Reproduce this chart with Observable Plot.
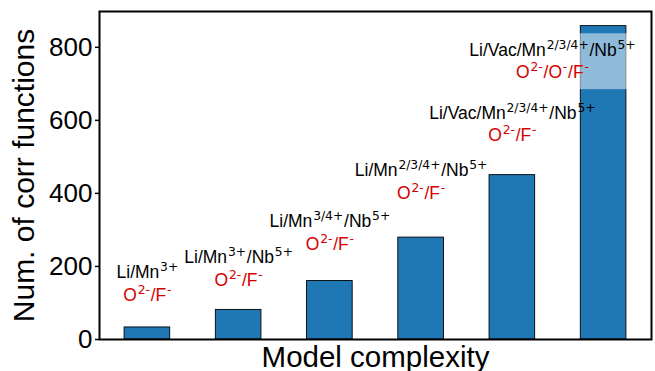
<!DOCTYPE html>
<html><head><meta charset="utf-8">
<script src="https://cdn.jsdelivr.net/npm/d3@7"></script>
<script src="https://cdn.jsdelivr.net/npm/@observablehq/plot@0.6"></script>
<style>
html,body{margin:0;padding:0;background:#fff;}
</style></head><body><div id="chart"></div>
<script>
// ---- data ----
const models = ["M1", "M2", "M3", "M4", "M5", "M6"];
const corrCounts = [33, 81, 160, 279, 450, 858];
const cationLabels = [
  "Li/Mn^{3+}",
  "Li/Mn^{3+}/Nb^{5+}",
  "Li/Mn^{3/4+}/Nb^{5+}",
  "Li/Mn^{2/3/4+}/Nb^{5+}",
  "Li/Vac/Mn^{2/3/4+}/Nb^{5+}",
  "Li/Vac/Mn^{2/3/4+}/Nb^{5+}"
];
const anionLabels = [
  "O^{2-}/F^{-}",
  "O^{2-}/F^{-}",
  "O^{2-}/F^{-}",
  "O^{2-}/F^{-}",
  "O^{2-}/F^{-}",
  "O^{2-}/O^{-}/F^{-}"
];
// label anchors in data units (model index, count)
const labelAnchorX = [0, 1, 2, 3, 4, 4.44];
const cationLabelY = [184, 224, 322, 464, 619, 792];
const anionLabelY = [120, 161, 261, 401, 558, 731];
const yTicks = [0, 200, 400, 600, 800];
const yTickLabels = ["0", "200", "400", "600", "800"];
const xTitle = "Model complexity";
const yTitle = "Num. of corr functions";

// ---- tables ----
const bars = models.map((m, i) => ({model: m, i, value: corrCounts[i]}));
const labels = models.map((m, i) => ({x: labelAnchorX[i], cy: cationLabelY[i], ay: anionLabelY[i], cation: cationLabels[i], anion: anionLabels[i]}));
const last = labels[labels.length - 1];
const boxes = [{x1: last.x - 0.95, x2: last.x + 0.95, y1: last.ay - 47, y2: last.cy + 45}];

const BLUE = "#1f77b4";
const RED = "#d40000";
const LABEL_SIZE = 17.5;

const chart = Plot.plot({
  width: 655, height: 371,
  marginLeft: 99, marginRight: 4, marginTop: 11, marginBottom: 32,
  style: {fontFamily: "'Liberation Sans', Arial, sans-serif", background: "white", overflow: "visible", color: "black"},
  x: {domain: [-0.525, 5.525], axis: null},
  y: {domain: [0, 898], axis: null},
  marks: [
    Plot.rect(bars, {x1: d => d.i - 0.25, x2: d => d.i + 0.25, y1: 0, y2: "value", fill: BLUE, stroke: "black", strokeWidth: 0.9}),
    Plot.rect(boxes, {x1: "x1", x2: "x2", y1: "y1", y2: "y2", fill: "white", fillOpacity: 0.5}),
    Plot.text(labels, {x: "x", y: "cy", text: "cation", fill: "black", fontSize: LABEL_SIZE}),
    Plot.text(labels, {x: "x", y: "ay", text: "anion", fill: RED, fontSize: LABEL_SIZE}),
    Plot.axisY({ticks: yTicks, tickFormat: d => yTickLabels[yTicks.indexOf(d)], tickSize: 4, tickPadding: 3, fontSize: 26, label: null, strokeWidth: 1.5}),
    Plot.frame({stroke: "black", strokeWidth: 2}),
    Plot.text([yTitle], {text: d => d, frameAnchor: "left", textAnchor: "middle", lineAnchor: "middle", rotate: -90, dx: -75, fontSize: 30}),
    Plot.text([xTitle], {text: d => d, frameAnchor: "bottom", textAnchor: "middle", lineAnchor: "middle", dy: 18, fontSize: 29.5})
  ]
});

// turn ^{...} markup into superscript tspans
const NS = "http://www.w3.org/2000/svg";
chart.querySelectorAll("text").forEach(t => {
  const s = t.textContent;
  if (!s.includes("^{")) return;
  const parts = s.split(/(\^\{[^}]*\})/).filter(p => p.length);
  t.textContent = "";
  let raised = false;
  const shift = 0.4 * LABEL_SIZE;
  for (const p of parts) {
    const ts = document.createElementNS(NS, "tspan");
    if (p.startsWith("^{")) {
      ts.textContent = p.slice(2, -1);
      ts.setAttribute("font-size", (0.7 * LABEL_SIZE).toFixed(1));
      ts.setAttribute("font-family", "'DejaVu Sans', sans-serif");
      ts.setAttribute("dx", 0.8);
      if (!raised) ts.setAttribute("dy", -shift);
      raised = true;
    } else {
      ts.textContent = p;
      ts.setAttribute("dx", 0.8);
      if (raised) ts.setAttribute("dy", shift);
      raised = false;
    }
    t.appendChild(ts);
  }
  t.firstChild.removeAttribute("dx");
});

document.getElementById("chart").appendChild(chart);
</script>
</body></html>
